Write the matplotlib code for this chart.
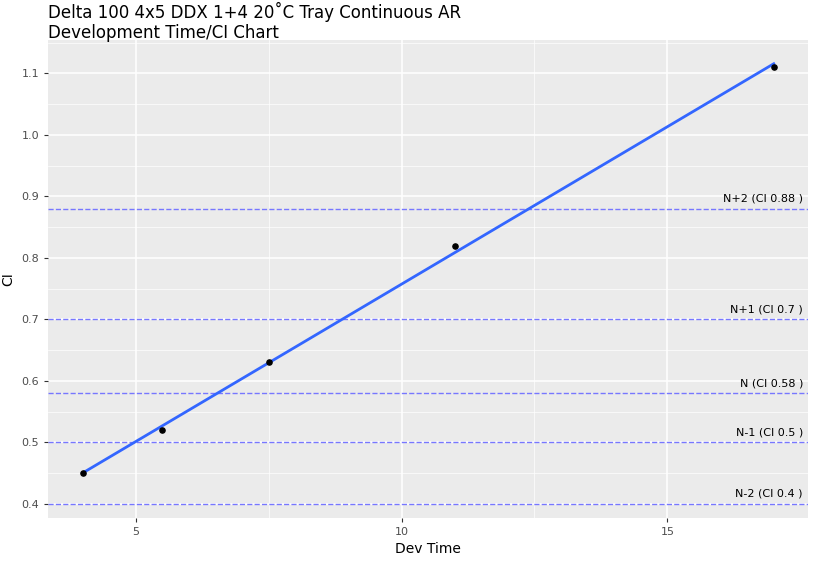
import numpy as np
import matplotlib
matplotlib.use("Agg")
import matplotlib.pyplot as plt

dev_time = [4, 5.5, 7.5, 11, 17]
ci = [0.45, 0.52, 0.63, 0.82, 1.11]
ref_ci = [0.4, 0.5, 0.58, 0.7, 0.88]
ref_labels = ["N-2 (CI 0.4 )", "N-1 (CI 0.5 )", "N (CI 0.58 )", "N+1 (CI 0.7 )", "N+2 (CI 0.88 )"]

fig = plt.figure(figsize=(8.14, 5.66), dpi=100)
ax = fig.add_axes([0.059, 0.085, 0.934, 0.844])
ax.set_facecolor("#EBEBEB")

ax.set_xticks([5, 10, 15])
ax.set_xticks([7.5, 12.5], minor=True)
ax.set_yticks(np.arange(0.4, 1.11, 0.1))
ax.set_yticks(np.arange(0.45, 1.16, 0.1), minor=True)
ax.set_xlim(3.35, 17.65)
ax.set_ylim(0.377, 1.154)
ax.grid(which="major", color="white", linewidth=1.1)
ax.grid(which="minor", color="white", linewidth=0.5)
ax.set_axisbelow(True)
for s in ax.spines.values():
    s.set_visible(False)
ax.tick_params(which="both", length=3, color="#333333", labelsize=8, labelcolor="#4D4D4D")
ax.tick_params(which="minor", length=0)

# linear fit
k, b = np.polyfit(dev_time, ci, 1)
xs = np.array([min(dev_time), max(dev_time)])
ax.plot(xs, k * xs + b, color="#3366FF", linewidth=2, zorder=3)
ax.scatter(dev_time, ci, color="black", s=14, zorder=4)

for y, lab in zip(ref_ci, ref_labels):
    ax.axhline(y, color="#7777FF", linestyle="--", linewidth=1)
    ax.text(17.55, y + 0.008, lab, ha="right", va="bottom", fontsize=8)

ax.set_xlabel("Dev Time", fontsize=10)
ax.set_ylabel("CI", fontsize=10)
fig.text(0.059, 0.925, "Delta 100 4x5 DDX 1+4 20˚C Tray Continuous AR\nDevelopment Time/CI Chart",
         fontsize=12, ha="left", va="bottom")
fig.savefig("out.png", dpi=100)
